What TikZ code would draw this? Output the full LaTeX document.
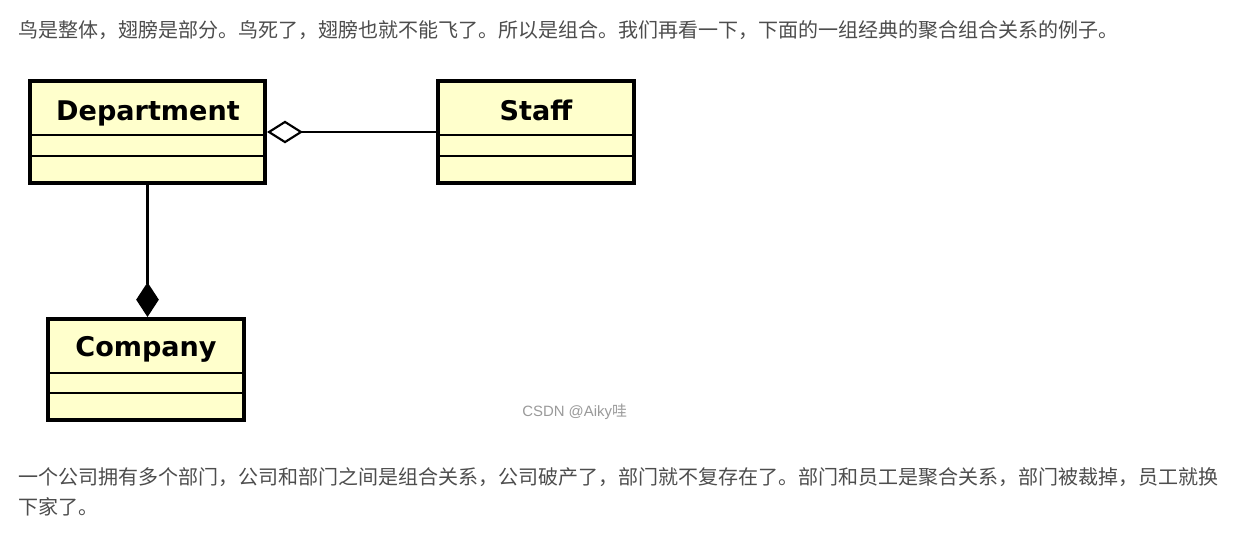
\documentclass[tikz,border=0pt]{standalone}
\usepackage{fontspec}
\usetikzlibrary{arrows.meta}
\newfontfamily\cjk{Noto Sans CJK SC}
\newfontfamily\boxfont{DejaVu Sans}
\definecolor{umlfill}{HTML}{FFFFCC}
\definecolor{bodytext}{HTML}{4D4D4D}
\definecolor{wm}{HTML}{9A9A9A}
\tikzset{
  umlbox/.style={draw=black, fill=umlfill, line width=3pt, rectangle, inner sep=0pt},
  umltitle/.style={font=\boxfont\bfseries\fontsize{20.3pt}{24pt}\selectfont, inner sep=0pt, anchor=base},
  divider/.style={line width=1.5pt},
  para/.style={font=\cjk\fontsize{15pt}{22pt}\selectfont, text=bodytext, anchor=west, inner sep=0pt},
  conn/.style={line width=1.6pt}
}
\begin{document}
\begin{tikzpicture}[x=0.75pt,y=-0.75pt]
\useasboundingbox (0,0) rectangle (1245,547);
\fill[white] (0,0) rectangle (1245,547);

\node[para] (t1) at (18,30) {鸟是整体，翅膀是部分。鸟死了，翅膀也就不能飞了。所以是组合。我们再看一下，下面的一组经典的聚合组合关系的例子。};

% boxes
\node[umlbox, minimum width=176.25pt, minimum height=76.5pt] (dept) at (147.5,132) {};
\node[umlbox, minimum width=147pt, minimum height=76.5pt] (staff) at (536,132) {};
\node[umlbox, minimum width=147pt, minimum height=75.75pt] (comp) at (146,369.5) {};

\draw[divider] (dept.west |- 0,135) -- (dept.east |- 0,135);
\draw[divider] (dept.west |- 0,156) -- (dept.east |- 0,156);
\draw[divider] (staff.west |- 0,135) -- (staff.east |- 0,135);
\draw[divider] (staff.west |- 0,156) -- (staff.east |- 0,156);
\draw[divider] (comp.west |- 0,373) -- (comp.east |- 0,373);
\draw[divider] (comp.west |- 0,393) -- (comp.east |- 0,393);

\node[umltitle] (deptT) at (148,120) {Department};
\node[umltitle] (staffT) at (536,120) {Staff};
\node[umltitle] (compT) at (146,356) {Company};

% connectors
\draw[conn, -{Diamond[open, fill=white, length=27pt, width=17pt, line width=1.6pt]}] (staff.west) -- (dept.east);
\draw[conn, -{Diamond[length=26pt, width=17pt]}] (dept.south) -- (dept.south |- comp.north);

\node[font=\fontspec{Liberation Sans}\fontsize{11.2pt}{13pt}\selectfont, text=wm, inner sep=0pt, anchor=west] (wm) at (522,412) {CSDN @Aiky{\cjk 哇}};

\node[para] (p1) at (18,477) {一个公司拥有多个部门，公司和部门之间是组合关系，公司破产了，部门就不复存在了。部门和员工是聚合关系，部门被裁掉，员工就换};
\node[para] (p2) at (18,507) {下家了。};
\end{tikzpicture}
\end{document}
